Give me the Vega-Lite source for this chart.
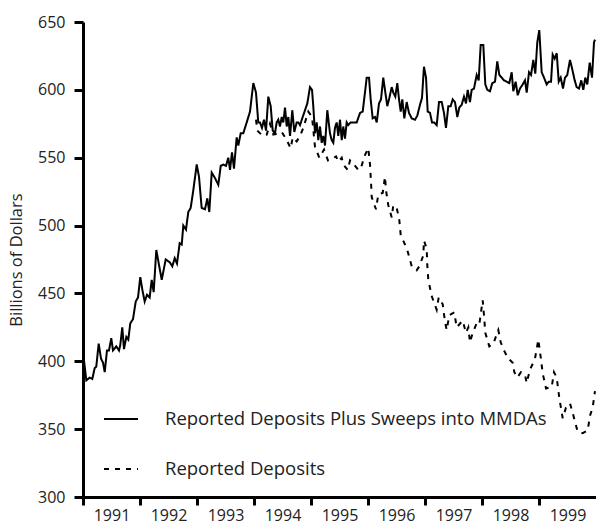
{
  "$schema": "https://vega.github.io/schema/vega-lite/v6.json",
  "width": 513,
  "height": 475,
  "autosize": {"type": "none"},
  "padding": {"left": 83, "top": 22, "right": 0, "bottom": 28},
  "background": "white",
  "config": {
    "view": {"stroke": null},
    "font": "Open Sans",
    "axis": {"labelFont": "Open Sans", "titleFont": "Open Sans", "labelColor": "#222", "titleColor": "#222", "domainColor": "black", "tickColor": "black", "grid": false},
    "legend": {"labelFont": "Open Sans"}
  },
  "data": {
    "values": [
      {"t": 1991.000, "v": 407, "s": "Reported Deposits Plus Sweeps into MMDAs"},
      {"t": 1991.058, "v": 386, "s": "Reported Deposits Plus Sweeps into MMDAs"},
      {"t": 1991.118, "v": 388, "s": "Reported Deposits Plus Sweeps into MMDAs"},
      {"t": 1991.163, "v": 387, "s": "Reported Deposits Plus Sweeps into MMDAs"},
      {"t": 1991.205, "v": 395, "s": "Reported Deposits Plus Sweeps into MMDAs"},
      {"t": 1991.233, "v": 396, "s": "Reported Deposits Plus Sweeps into MMDAs"},
      {"t": 1991.275, "v": 413, "s": "Reported Deposits Plus Sweeps into MMDAs"},
      {"t": 1991.316, "v": 402, "s": "Reported Deposits Plus Sweeps into MMDAs"},
      {"t": 1991.351, "v": 399, "s": "Reported Deposits Plus Sweeps into MMDAs"},
      {"t": 1991.381, "v": 392, "s": "Reported Deposits Plus Sweeps into MMDAs"},
      {"t": 1991.421, "v": 408, "s": "Reported Deposits Plus Sweeps into MMDAs"},
      {"t": 1991.456, "v": 408, "s": "Reported Deposits Plus Sweeps into MMDAs"},
      {"t": 1991.496, "v": 417, "s": "Reported Deposits Plus Sweeps into MMDAs"},
      {"t": 1991.526, "v": 408, "s": "Reported Deposits Plus Sweeps into MMDAs"},
      {"t": 1991.584, "v": 411, "s": "Reported Deposits Plus Sweeps into MMDAs"},
      {"t": 1991.632, "v": 408, "s": "Reported Deposits Plus Sweeps into MMDAs"},
      {"t": 1991.654, "v": 412, "s": "Reported Deposits Plus Sweeps into MMDAs"},
      {"t": 1991.689, "v": 425, "s": "Reported Deposits Plus Sweeps into MMDAs"},
      {"t": 1991.719, "v": 409, "s": "Reported Deposits Plus Sweeps into MMDAs"},
      {"t": 1991.760, "v": 418, "s": "Reported Deposits Plus Sweeps into MMDAs"},
      {"t": 1991.795, "v": 416, "s": "Reported Deposits Plus Sweeps into MMDAs"},
      {"t": 1991.830, "v": 428, "s": "Reported Deposits Plus Sweeps into MMDAs"},
      {"t": 1991.877, "v": 431, "s": "Reported Deposits Plus Sweeps into MMDAs"},
      {"t": 1991.925, "v": 444, "s": "Reported Deposits Plus Sweeps into MMDAs"},
      {"t": 1991.965, "v": 447, "s": "Reported Deposits Plus Sweeps into MMDAs"},
      {"t": 1992.005, "v": 462, "s": "Reported Deposits Plus Sweeps into MMDAs"},
      {"t": 1992.040, "v": 453, "s": "Reported Deposits Plus Sweeps into MMDAs"},
      {"t": 1992.082, "v": 444, "s": "Reported Deposits Plus Sweeps into MMDAs"},
      {"t": 1992.123, "v": 449, "s": "Reported Deposits Plus Sweeps into MMDAs"},
      {"t": 1992.170, "v": 447, "s": "Reported Deposits Plus Sweeps into MMDAs"},
      {"t": 1992.205, "v": 460, "s": "Reported Deposits Plus Sweeps into MMDAs"},
      {"t": 1992.240, "v": 451, "s": "Reported Deposits Plus Sweeps into MMDAs"},
      {"t": 1992.286, "v": 482, "s": "Reported Deposits Plus Sweeps into MMDAs"},
      {"t": 1992.381, "v": 460, "s": "Reported Deposits Plus Sweeps into MMDAs"},
      {"t": 1992.451, "v": 475, "s": "Reported Deposits Plus Sweeps into MMDAs"},
      {"t": 1992.521, "v": 473, "s": "Reported Deposits Plus Sweeps into MMDAs"},
      {"t": 1992.567, "v": 470, "s": "Reported Deposits Plus Sweeps into MMDAs"},
      {"t": 1992.609, "v": 476, "s": "Reported Deposits Plus Sweeps into MMDAs"},
      {"t": 1992.649, "v": 472, "s": "Reported Deposits Plus Sweeps into MMDAs"},
      {"t": 1992.696, "v": 487, "s": "Reported Deposits Plus Sweeps into MMDAs"},
      {"t": 1992.732, "v": 486, "s": "Reported Deposits Plus Sweeps into MMDAs"},
      {"t": 1992.760, "v": 500, "s": "Reported Deposits Plus Sweeps into MMDAs"},
      {"t": 1992.807, "v": 497, "s": "Reported Deposits Plus Sweeps into MMDAs"},
      {"t": 1992.847, "v": 510, "s": "Reported Deposits Plus Sweeps into MMDAs"},
      {"t": 1992.889, "v": 513, "s": "Reported Deposits Plus Sweeps into MMDAs"},
      {"t": 1992.935, "v": 526, "s": "Reported Deposits Plus Sweeps into MMDAs"},
      {"t": 1992.995, "v": 545, "s": "Reported Deposits Plus Sweeps into MMDAs"},
      {"t": 1993.035, "v": 536, "s": "Reported Deposits Plus Sweeps into MMDAs"},
      {"t": 1993.082, "v": 513, "s": "Reported Deposits Plus Sweeps into MMDAs"},
      {"t": 1993.140, "v": 512, "s": "Reported Deposits Plus Sweeps into MMDAs"},
      {"t": 1993.181, "v": 520, "s": "Reported Deposits Plus Sweeps into MMDAs"},
      {"t": 1993.216, "v": 510, "s": "Reported Deposits Plus Sweeps into MMDAs"},
      {"t": 1993.258, "v": 539, "s": "Reported Deposits Plus Sweeps into MMDAs"},
      {"t": 1993.316, "v": 535, "s": "Reported Deposits Plus Sweeps into MMDAs"},
      {"t": 1993.374, "v": 530, "s": "Reported Deposits Plus Sweeps into MMDAs"},
      {"t": 1993.416, "v": 544, "s": "Reported Deposits Plus Sweeps into MMDAs"},
      {"t": 1993.461, "v": 545, "s": "Reported Deposits Plus Sweeps into MMDAs"},
      {"t": 1993.509, "v": 544, "s": "Reported Deposits Plus Sweeps into MMDAs"},
      {"t": 1993.549, "v": 550, "s": "Reported Deposits Plus Sweeps into MMDAs"},
      {"t": 1993.579, "v": 541, "s": "Reported Deposits Plus Sweeps into MMDAs"},
      {"t": 1993.614, "v": 554, "s": "Reported Deposits Plus Sweeps into MMDAs"},
      {"t": 1993.649, "v": 542, "s": "Reported Deposits Plus Sweeps into MMDAs"},
      {"t": 1993.696, "v": 565, "s": "Reported Deposits Plus Sweeps into MMDAs"},
      {"t": 1993.725, "v": 559, "s": "Reported Deposits Plus Sweeps into MMDAs"},
      {"t": 1993.767, "v": 568, "s": "Reported Deposits Plus Sweeps into MMDAs"},
      {"t": 1993.812, "v": 568, "s": "Reported Deposits Plus Sweeps into MMDAs"},
      {"t": 1993.872, "v": 576, "s": "Reported Deposits Plus Sweeps into MMDAs"},
      {"t": 1993.930, "v": 584, "s": "Reported Deposits Plus Sweeps into MMDAs"},
      {"t": 1993.988, "v": 605, "s": "Reported Deposits Plus Sweeps into MMDAs"},
      {"t": 1994.035, "v": 598, "s": "Reported Deposits Plus Sweeps into MMDAs"},
      {"t": 1994.075, "v": 576, "s": "Reported Deposits Plus Sweeps into MMDAs"},
      {"t": 1994.105, "v": 576, "s": "Reported Deposits Plus Sweeps into MMDAs"},
      {"t": 1994.140, "v": 572, "s": "Reported Deposits Plus Sweeps into MMDAs"},
      {"t": 1994.175, "v": 578, "s": "Reported Deposits Plus Sweeps into MMDAs"},
      {"t": 1994.211, "v": 570, "s": "Reported Deposits Plus Sweeps into MMDAs"},
      {"t": 1994.251, "v": 595, "s": "Reported Deposits Plus Sweeps into MMDAs"},
      {"t": 1994.293, "v": 588, "s": "Reported Deposits Plus Sweeps into MMDAs"},
      {"t": 1994.328, "v": 570, "s": "Reported Deposits Plus Sweeps into MMDAs"},
      {"t": 1994.368, "v": 568, "s": "Reported Deposits Plus Sweeps into MMDAs"},
      {"t": 1994.398, "v": 576, "s": "Reported Deposits Plus Sweeps into MMDAs"},
      {"t": 1994.426, "v": 578, "s": "Reported Deposits Plus Sweeps into MMDAs"},
      {"t": 1994.456, "v": 573, "s": "Reported Deposits Plus Sweeps into MMDAs"},
      {"t": 1994.486, "v": 580, "s": "Reported Deposits Plus Sweeps into MMDAs"},
      {"t": 1994.514, "v": 576, "s": "Reported Deposits Plus Sweeps into MMDAs"},
      {"t": 1994.544, "v": 587, "s": "Reported Deposits Plus Sweeps into MMDAs"},
      {"t": 1994.574, "v": 573, "s": "Reported Deposits Plus Sweeps into MMDAs"},
      {"t": 1994.602, "v": 580, "s": "Reported Deposits Plus Sweeps into MMDAs"},
      {"t": 1994.632, "v": 566, "s": "Reported Deposits Plus Sweeps into MMDAs"},
      {"t": 1994.672, "v": 585, "s": "Reported Deposits Plus Sweeps into MMDAs"},
      {"t": 1994.707, "v": 569, "s": "Reported Deposits Plus Sweeps into MMDAs"},
      {"t": 1994.749, "v": 576, "s": "Reported Deposits Plus Sweeps into MMDAs"},
      {"t": 1994.777, "v": 576, "s": "Reported Deposits Plus Sweeps into MMDAs"},
      {"t": 1994.807, "v": 574, "s": "Reported Deposits Plus Sweeps into MMDAs"},
      {"t": 1994.854, "v": 580, "s": "Reported Deposits Plus Sweeps into MMDAs"},
      {"t": 1994.895, "v": 585, "s": "Reported Deposits Plus Sweeps into MMDAs"},
      {"t": 1994.935, "v": 590, "s": "Reported Deposits Plus Sweeps into MMDAs"},
      {"t": 1994.982, "v": 602, "s": "Reported Deposits Plus Sweeps into MMDAs"},
      {"t": 1995.018, "v": 600, "s": "Reported Deposits Plus Sweeps into MMDAs"},
      {"t": 1995.040, "v": 588, "s": "Reported Deposits Plus Sweeps into MMDAs"},
      {"t": 1995.070, "v": 568, "s": "Reported Deposits Plus Sweeps into MMDAs"},
      {"t": 1995.100, "v": 576, "s": "Reported Deposits Plus Sweeps into MMDAs"},
      {"t": 1995.128, "v": 563, "s": "Reported Deposits Plus Sweeps into MMDAs"},
      {"t": 1995.158, "v": 573, "s": "Reported Deposits Plus Sweeps into MMDAs"},
      {"t": 1995.188, "v": 561, "s": "Reported Deposits Plus Sweeps into MMDAs"},
      {"t": 1995.216, "v": 566, "s": "Reported Deposits Plus Sweeps into MMDAs"},
      {"t": 1995.246, "v": 559, "s": "Reported Deposits Plus Sweeps into MMDAs"},
      {"t": 1995.286, "v": 585, "s": "Reported Deposits Plus Sweeps into MMDAs"},
      {"t": 1995.333, "v": 568, "s": "Reported Deposits Plus Sweeps into MMDAs"},
      {"t": 1995.363, "v": 563, "s": "Reported Deposits Plus Sweeps into MMDAs"},
      {"t": 1995.391, "v": 561, "s": "Reported Deposits Plus Sweeps into MMDAs"},
      {"t": 1995.421, "v": 572, "s": "Reported Deposits Plus Sweeps into MMDAs"},
      {"t": 1995.451, "v": 576, "s": "Reported Deposits Plus Sweeps into MMDAs"},
      {"t": 1995.479, "v": 566, "s": "Reported Deposits Plus Sweeps into MMDAs"},
      {"t": 1995.509, "v": 578, "s": "Reported Deposits Plus Sweeps into MMDAs"},
      {"t": 1995.539, "v": 563, "s": "Reported Deposits Plus Sweeps into MMDAs"},
      {"t": 1995.567, "v": 573, "s": "Reported Deposits Plus Sweeps into MMDAs"},
      {"t": 1995.596, "v": 564, "s": "Reported Deposits Plus Sweeps into MMDAs"},
      {"t": 1995.626, "v": 576, "s": "Reported Deposits Plus Sweeps into MMDAs"},
      {"t": 1995.654, "v": 574, "s": "Reported Deposits Plus Sweeps into MMDAs"},
      {"t": 1995.696, "v": 576, "s": "Reported Deposits Plus Sweeps into MMDAs"},
      {"t": 1995.742, "v": 576, "s": "Reported Deposits Plus Sweeps into MMDAs"},
      {"t": 1995.802, "v": 576, "s": "Reported Deposits Plus Sweeps into MMDAs"},
      {"t": 1995.860, "v": 583, "s": "Reported Deposits Plus Sweeps into MMDAs"},
      {"t": 1995.907, "v": 584, "s": "Reported Deposits Plus Sweeps into MMDAs"},
      {"t": 1995.947, "v": 598, "s": "Reported Deposits Plus Sweeps into MMDAs"},
      {"t": 1995.977, "v": 609, "s": "Reported Deposits Plus Sweeps into MMDAs"},
      {"t": 1996.018, "v": 609, "s": "Reported Deposits Plus Sweeps into MMDAs"},
      {"t": 1996.047, "v": 593, "s": "Reported Deposits Plus Sweeps into MMDAs"},
      {"t": 1996.082, "v": 579, "s": "Reported Deposits Plus Sweeps into MMDAs"},
      {"t": 1996.123, "v": 580, "s": "Reported Deposits Plus Sweeps into MMDAs"},
      {"t": 1996.153, "v": 576, "s": "Reported Deposits Plus Sweeps into MMDAs"},
      {"t": 1996.193, "v": 590, "s": "Reported Deposits Plus Sweeps into MMDAs"},
      {"t": 1996.228, "v": 593, "s": "Reported Deposits Plus Sweeps into MMDAs"},
      {"t": 1996.268, "v": 609, "s": "Reported Deposits Plus Sweeps into MMDAs"},
      {"t": 1996.304, "v": 598, "s": "Reported Deposits Plus Sweeps into MMDAs"},
      {"t": 1996.339, "v": 588, "s": "Reported Deposits Plus Sweeps into MMDAs"},
      {"t": 1996.374, "v": 594, "s": "Reported Deposits Plus Sweeps into MMDAs"},
      {"t": 1996.416, "v": 602, "s": "Reported Deposits Plus Sweeps into MMDAs"},
      {"t": 1996.444, "v": 598, "s": "Reported Deposits Plus Sweeps into MMDAs"},
      {"t": 1996.479, "v": 595, "s": "Reported Deposits Plus Sweeps into MMDAs"},
      {"t": 1996.514, "v": 605, "s": "Reported Deposits Plus Sweeps into MMDAs"},
      {"t": 1996.544, "v": 593, "s": "Reported Deposits Plus Sweeps into MMDAs"},
      {"t": 1996.574, "v": 584, "s": "Reported Deposits Plus Sweeps into MMDAs"},
      {"t": 1996.602, "v": 593, "s": "Reported Deposits Plus Sweeps into MMDAs"},
      {"t": 1996.637, "v": 579, "s": "Reported Deposits Plus Sweeps into MMDAs"},
      {"t": 1996.679, "v": 591, "s": "Reported Deposits Plus Sweeps into MMDAs"},
      {"t": 1996.719, "v": 583, "s": "Reported Deposits Plus Sweeps into MMDAs"},
      {"t": 1996.767, "v": 579, "s": "Reported Deposits Plus Sweeps into MMDAs"},
      {"t": 1996.825, "v": 578, "s": "Reported Deposits Plus Sweeps into MMDAs"},
      {"t": 1996.865, "v": 581, "s": "Reported Deposits Plus Sweeps into MMDAs"},
      {"t": 1996.912, "v": 589, "s": "Reported Deposits Plus Sweeps into MMDAs"},
      {"t": 1996.947, "v": 594, "s": "Reported Deposits Plus Sweeps into MMDAs"},
      {"t": 1996.982, "v": 617, "s": "Reported Deposits Plus Sweeps into MMDAs"},
      {"t": 1997.018, "v": 609, "s": "Reported Deposits Plus Sweeps into MMDAs"},
      {"t": 1997.047, "v": 584, "s": "Reported Deposits Plus Sweeps into MMDAs"},
      {"t": 1997.088, "v": 583, "s": "Reported Deposits Plus Sweeps into MMDAs"},
      {"t": 1997.123, "v": 576, "s": "Reported Deposits Plus Sweeps into MMDAs"},
      {"t": 1997.163, "v": 576, "s": "Reported Deposits Plus Sweeps into MMDAs"},
      {"t": 1997.205, "v": 574, "s": "Reported Deposits Plus Sweeps into MMDAs"},
      {"t": 1997.246, "v": 591, "s": "Reported Deposits Plus Sweeps into MMDAs"},
      {"t": 1997.293, "v": 591, "s": "Reported Deposits Plus Sweeps into MMDAs"},
      {"t": 1997.333, "v": 583, "s": "Reported Deposits Plus Sweeps into MMDAs"},
      {"t": 1997.368, "v": 572, "s": "Reported Deposits Plus Sweeps into MMDAs"},
      {"t": 1997.409, "v": 588, "s": "Reported Deposits Plus Sweeps into MMDAs"},
      {"t": 1997.451, "v": 588, "s": "Reported Deposits Plus Sweeps into MMDAs"},
      {"t": 1997.486, "v": 593, "s": "Reported Deposits Plus Sweeps into MMDAs"},
      {"t": 1997.526, "v": 591, "s": "Reported Deposits Plus Sweeps into MMDAs"},
      {"t": 1997.567, "v": 580, "s": "Reported Deposits Plus Sweeps into MMDAs"},
      {"t": 1997.602, "v": 587, "s": "Reported Deposits Plus Sweeps into MMDAs"},
      {"t": 1997.644, "v": 589, "s": "Reported Deposits Plus Sweeps into MMDAs"},
      {"t": 1997.684, "v": 595, "s": "Reported Deposits Plus Sweeps into MMDAs"},
      {"t": 1997.719, "v": 590, "s": "Reported Deposits Plus Sweeps into MMDAs"},
      {"t": 1997.749, "v": 600, "s": "Reported Deposits Plus Sweeps into MMDAs"},
      {"t": 1997.789, "v": 591, "s": "Reported Deposits Plus Sweeps into MMDAs"},
      {"t": 1997.819, "v": 600, "s": "Reported Deposits Plus Sweeps into MMDAs"},
      {"t": 1997.860, "v": 601, "s": "Reported Deposits Plus Sweeps into MMDAs"},
      {"t": 1997.907, "v": 611, "s": "Reported Deposits Plus Sweeps into MMDAs"},
      {"t": 1997.942, "v": 607, "s": "Reported Deposits Plus Sweeps into MMDAs"},
      {"t": 1997.977, "v": 633, "s": "Reported Deposits Plus Sweeps into MMDAs"},
      {"t": 1998.023, "v": 633, "s": "Reported Deposits Plus Sweeps into MMDAs"},
      {"t": 1998.058, "v": 604, "s": "Reported Deposits Plus Sweeps into MMDAs"},
      {"t": 1998.093, "v": 600, "s": "Reported Deposits Plus Sweeps into MMDAs"},
      {"t": 1998.140, "v": 599, "s": "Reported Deposits Plus Sweeps into MMDAs"},
      {"t": 1998.181, "v": 605, "s": "Reported Deposits Plus Sweeps into MMDAs"},
      {"t": 1998.228, "v": 606, "s": "Reported Deposits Plus Sweeps into MMDAs"},
      {"t": 1998.268, "v": 621, "s": "Reported Deposits Plus Sweeps into MMDAs"},
      {"t": 1998.304, "v": 611, "s": "Reported Deposits Plus Sweeps into MMDAs"},
      {"t": 1998.346, "v": 609, "s": "Reported Deposits Plus Sweeps into MMDAs"},
      {"t": 1998.386, "v": 607, "s": "Reported Deposits Plus Sweeps into MMDAs"},
      {"t": 1998.433, "v": 606, "s": "Reported Deposits Plus Sweeps into MMDAs"},
      {"t": 1998.479, "v": 605, "s": "Reported Deposits Plus Sweeps into MMDAs"},
      {"t": 1998.521, "v": 613, "s": "Reported Deposits Plus Sweeps into MMDAs"},
      {"t": 1998.549, "v": 599, "s": "Reported Deposits Plus Sweeps into MMDAs"},
      {"t": 1998.591, "v": 606, "s": "Reported Deposits Plus Sweeps into MMDAs"},
      {"t": 1998.626, "v": 596, "s": "Reported Deposits Plus Sweeps into MMDAs"},
      {"t": 1998.667, "v": 601, "s": "Reported Deposits Plus Sweeps into MMDAs"},
      {"t": 1998.714, "v": 604, "s": "Reported Deposits Plus Sweeps into MMDAs"},
      {"t": 1998.754, "v": 607, "s": "Reported Deposits Plus Sweeps into MMDAs"},
      {"t": 1998.784, "v": 598, "s": "Reported Deposits Plus Sweeps into MMDAs"},
      {"t": 1998.825, "v": 613, "s": "Reported Deposits Plus Sweeps into MMDAs"},
      {"t": 1998.860, "v": 611, "s": "Reported Deposits Plus Sweeps into MMDAs"},
      {"t": 1998.900, "v": 622, "s": "Reported Deposits Plus Sweeps into MMDAs"},
      {"t": 1998.935, "v": 612, "s": "Reported Deposits Plus Sweeps into MMDAs"},
      {"t": 1998.970, "v": 635, "s": "Reported Deposits Plus Sweeps into MMDAs"},
      {"t": 1999.005, "v": 644, "s": "Reported Deposits Plus Sweeps into MMDAs"},
      {"t": 1999.047, "v": 613, "s": "Reported Deposits Plus Sweeps into MMDAs"},
      {"t": 1999.088, "v": 609, "s": "Reported Deposits Plus Sweeps into MMDAs"},
      {"t": 1999.135, "v": 604, "s": "Reported Deposits Plus Sweeps into MMDAs"},
      {"t": 1999.170, "v": 606, "s": "Reported Deposits Plus Sweeps into MMDAs"},
      {"t": 1999.211, "v": 606, "s": "Reported Deposits Plus Sweeps into MMDAs"},
      {"t": 1999.240, "v": 626, "s": "Reported Deposits Plus Sweeps into MMDAs"},
      {"t": 1999.275, "v": 623, "s": "Reported Deposits Plus Sweeps into MMDAs"},
      {"t": 1999.311, "v": 627, "s": "Reported Deposits Plus Sweeps into MMDAs"},
      {"t": 1999.346, "v": 606, "s": "Reported Deposits Plus Sweeps into MMDAs"},
      {"t": 1999.381, "v": 609, "s": "Reported Deposits Plus Sweeps into MMDAs"},
      {"t": 1999.421, "v": 601, "s": "Reported Deposits Plus Sweeps into MMDAs"},
      {"t": 1999.456, "v": 609, "s": "Reported Deposits Plus Sweeps into MMDAs"},
      {"t": 1999.496, "v": 611, "s": "Reported Deposits Plus Sweeps into MMDAs"},
      {"t": 1999.544, "v": 622, "s": "Reported Deposits Plus Sweeps into MMDAs"},
      {"t": 1999.579, "v": 616, "s": "Reported Deposits Plus Sweeps into MMDAs"},
      {"t": 1999.626, "v": 607, "s": "Reported Deposits Plus Sweeps into MMDAs"},
      {"t": 1999.661, "v": 602, "s": "Reported Deposits Plus Sweeps into MMDAs"},
      {"t": 1999.702, "v": 601, "s": "Reported Deposits Plus Sweeps into MMDAs"},
      {"t": 1999.742, "v": 607, "s": "Reported Deposits Plus Sweeps into MMDAs"},
      {"t": 1999.777, "v": 600, "s": "Reported Deposits Plus Sweeps into MMDAs"},
      {"t": 1999.812, "v": 609, "s": "Reported Deposits Plus Sweeps into MMDAs"},
      {"t": 1999.847, "v": 604, "s": "Reported Deposits Plus Sweeps into MMDAs"},
      {"t": 1999.889, "v": 620, "s": "Reported Deposits Plus Sweeps into MMDAs"},
      {"t": 1999.930, "v": 609, "s": "Reported Deposits Plus Sweeps into MMDAs"},
      {"t": 1999.965, "v": 635, "s": "Reported Deposits Plus Sweeps into MMDAs"},
      {"t": 1999.982, "v": 637, "s": "Reported Deposits Plus Sweeps into MMDAs"},
      {"t": 1994.035, "v": 578, "s": "Reported Deposits"},
      {"t": 1994.058, "v": 570, "s": "Reported Deposits"},
      {"t": 1994.153, "v": 566, "s": "Reported Deposits"},
      {"t": 1994.223, "v": 567, "s": "Reported Deposits"},
      {"t": 1994.281, "v": 575, "s": "Reported Deposits"},
      {"t": 1994.339, "v": 567, "s": "Reported Deposits"},
      {"t": 1994.426, "v": 568, "s": "Reported Deposits"},
      {"t": 1994.486, "v": 569, "s": "Reported Deposits"},
      {"t": 1994.574, "v": 563, "s": "Reported Deposits"},
      {"t": 1994.644, "v": 557, "s": "Reported Deposits"},
      {"t": 1994.679, "v": 565, "s": "Reported Deposits"},
      {"t": 1994.749, "v": 562, "s": "Reported Deposits"},
      {"t": 1994.807, "v": 566, "s": "Reported Deposits"},
      {"t": 1994.865, "v": 572, "s": "Reported Deposits"},
      {"t": 1994.953, "v": 584, "s": "Reported Deposits"},
      {"t": 1995.018, "v": 580, "s": "Reported Deposits"},
      {"t": 1995.070, "v": 558, "s": "Reported Deposits"},
      {"t": 1995.146, "v": 550, "s": "Reported Deposits"},
      {"t": 1995.228, "v": 556, "s": "Reported Deposits"},
      {"t": 1995.298, "v": 548, "s": "Reported Deposits"},
      {"t": 1995.363, "v": 549, "s": "Reported Deposits"},
      {"t": 1995.439, "v": 551, "s": "Reported Deposits"},
      {"t": 1995.479, "v": 547, "s": "Reported Deposits"},
      {"t": 1995.539, "v": 550, "s": "Reported Deposits"},
      {"t": 1995.567, "v": 545, "s": "Reported Deposits"},
      {"t": 1995.644, "v": 541, "s": "Reported Deposits"},
      {"t": 1995.684, "v": 548, "s": "Reported Deposits"},
      {"t": 1995.754, "v": 545, "s": "Reported Deposits"},
      {"t": 1995.830, "v": 541, "s": "Reported Deposits"},
      {"t": 1995.872, "v": 542, "s": "Reported Deposits"},
      {"t": 1995.947, "v": 552, "s": "Reported Deposits"},
      {"t": 1996.005, "v": 557, "s": "Reported Deposits"},
      {"t": 1996.035, "v": 545, "s": "Reported Deposits"},
      {"t": 1996.053, "v": 532, "s": "Reported Deposits"},
      {"t": 1996.065, "v": 521, "s": "Reported Deposits"},
      {"t": 1996.140, "v": 512, "s": "Reported Deposits"},
      {"t": 1996.181, "v": 523, "s": "Reported Deposits"},
      {"t": 1996.258, "v": 524, "s": "Reported Deposits"},
      {"t": 1996.298, "v": 536, "s": "Reported Deposits"},
      {"t": 1996.316, "v": 526, "s": "Reported Deposits"},
      {"t": 1996.356, "v": 515, "s": "Reported Deposits"},
      {"t": 1996.416, "v": 506, "s": "Reported Deposits"},
      {"t": 1996.444, "v": 515, "s": "Reported Deposits"},
      {"t": 1996.504, "v": 513, "s": "Reported Deposits"},
      {"t": 1996.549, "v": 504, "s": "Reported Deposits"},
      {"t": 1996.574, "v": 493, "s": "Reported Deposits"},
      {"t": 1996.649, "v": 486, "s": "Reported Deposits"},
      {"t": 1996.689, "v": 482, "s": "Reported Deposits"},
      {"t": 1996.767, "v": 470, "s": "Reported Deposits"},
      {"t": 1996.854, "v": 467, "s": "Reported Deposits"},
      {"t": 1996.900, "v": 470, "s": "Reported Deposits"},
      {"t": 1996.970, "v": 478, "s": "Reported Deposits"},
      {"t": 1996.982, "v": 489, "s": "Reported Deposits"},
      {"t": 1997.030, "v": 483, "s": "Reported Deposits"},
      {"t": 1997.040, "v": 471, "s": "Reported Deposits"},
      {"t": 1997.058, "v": 460, "s": "Reported Deposits"},
      {"t": 1997.118, "v": 448, "s": "Reported Deposits"},
      {"t": 1997.205, "v": 438, "s": "Reported Deposits"},
      {"t": 1997.240, "v": 447, "s": "Reported Deposits"},
      {"t": 1997.311, "v": 442, "s": "Reported Deposits"},
      {"t": 1997.351, "v": 429, "s": "Reported Deposits"},
      {"t": 1997.381, "v": 423, "s": "Reported Deposits"},
      {"t": 1997.426, "v": 434, "s": "Reported Deposits"},
      {"t": 1997.514, "v": 436, "s": "Reported Deposits"},
      {"t": 1997.556, "v": 425, "s": "Reported Deposits"},
      {"t": 1997.661, "v": 430, "s": "Reported Deposits"},
      {"t": 1997.719, "v": 421, "s": "Reported Deposits"},
      {"t": 1997.760, "v": 425, "s": "Reported Deposits"},
      {"t": 1997.789, "v": 414, "s": "Reported Deposits"},
      {"t": 1997.837, "v": 421, "s": "Reported Deposits"},
      {"t": 1997.907, "v": 428, "s": "Reported Deposits"},
      {"t": 1997.952, "v": 427, "s": "Reported Deposits"},
      {"t": 1998.012, "v": 445, "s": "Reported Deposits"},
      {"t": 1998.035, "v": 434, "s": "Reported Deposits"},
      {"t": 1998.058, "v": 421, "s": "Reported Deposits"},
      {"t": 1998.128, "v": 411, "s": "Reported Deposits"},
      {"t": 1998.198, "v": 413, "s": "Reported Deposits"},
      {"t": 1998.286, "v": 423, "s": "Reported Deposits"},
      {"t": 1998.328, "v": 414, "s": "Reported Deposits"},
      {"t": 1998.386, "v": 408, "s": "Reported Deposits"},
      {"t": 1998.461, "v": 402, "s": "Reported Deposits"},
      {"t": 1998.539, "v": 399, "s": "Reported Deposits"},
      {"t": 1998.567, "v": 392, "s": "Reported Deposits"},
      {"t": 1998.619, "v": 388, "s": "Reported Deposits"},
      {"t": 1998.684, "v": 392, "s": "Reported Deposits"},
      {"t": 1998.754, "v": 390, "s": "Reported Deposits"},
      {"t": 1998.784, "v": 384, "s": "Reported Deposits"},
      {"t": 1998.842, "v": 394, "s": "Reported Deposits"},
      {"t": 1998.900, "v": 399, "s": "Reported Deposits"},
      {"t": 1998.930, "v": 402, "s": "Reported Deposits"},
      {"t": 1998.988, "v": 416, "s": "Reported Deposits"},
      {"t": 1999.030, "v": 403, "s": "Reported Deposits"},
      {"t": 1999.065, "v": 391, "s": "Reported Deposits"},
      {"t": 1999.123, "v": 380, "s": "Reported Deposits"},
      {"t": 1999.223, "v": 381, "s": "Reported Deposits"},
      {"t": 1999.263, "v": 392, "s": "Reported Deposits"},
      {"t": 1999.311, "v": 388, "s": "Reported Deposits"},
      {"t": 1999.356, "v": 373, "s": "Reported Deposits"},
      {"t": 1999.416, "v": 358, "s": "Reported Deposits"},
      {"t": 1999.474, "v": 366, "s": "Reported Deposits"},
      {"t": 1999.544, "v": 369, "s": "Reported Deposits"},
      {"t": 1999.591, "v": 362, "s": "Reported Deposits"},
      {"t": 1999.679, "v": 348, "s": "Reported Deposits"},
      {"t": 1999.767, "v": 347, "s": "Reported Deposits"},
      {"t": 1999.854, "v": 349, "s": "Reported Deposits"},
      {"t": 1999.895, "v": 360, "s": "Reported Deposits"},
      {"t": 1999.942, "v": 366, "s": "Reported Deposits"},
      {"t": 1999.982, "v": 378, "s": "Reported Deposits"}
    ]
  },
  "mark": {"type": "line", "color": "black", "strokeWidth": 2, "clip": true},
  "encoding": {
    "x": {
      "field": "t", "type": "quantitative",
      "scale": {"domain": [1991, 2000], "nice": false, "zero": false},
      "axis": {
        "title": null, "values": [1991, 1992, 1993, 1994, 1995, 1996, 1997, 1998, 1999],
        "format": "d", "labelOffset": 28.5, "labelFontSize": 16, "labelPadding": 2,
        "tickSize": 8, "tickWidth": 3, "domainWidth": 3, "labelFlush": false, "labelOverlap": false
      }
    },
    "y": {
      "field": "v", "type": "quantitative",
      "scale": {"domain": [300, 650], "nice": false, "zero": false},
      "axis": {
        "title": "Billions of Dollars", "values": [300, 350, 400, 450, 500, 550, 600, 650],
        "labelFontSize": 16, "titleFontSize": 16.5, "titleFontWeight": "normal", "labelPadding": 9,
        "tickSize": 9, "tickWidth": 3, "domainWidth": 3, "titlePadding": 13
      }
    },
    "strokeDash": {
      "field": "s", "type": "nominal",
      "scale": {
        "domain": ["Reported Deposits Plus Sweeps into MMDAs", "Reported Deposits"],
        "range": [[1, 0], [5, 6]]
      },
      "legend": {
        "title": null, "orient": "none", "legendX": 20, "legendY": 379, "padding": 0,
        "symbolType": "stroke", "symbolSize": 1156, "symbolStrokeWidth": 2, "symbolStrokeColor": "black",
        "labelFontSize": 18.5, "labelOffset": 26, "labelColor": "#222", "rowPadding": 22, "labelLimit": 500
      }
    }
  }
}
